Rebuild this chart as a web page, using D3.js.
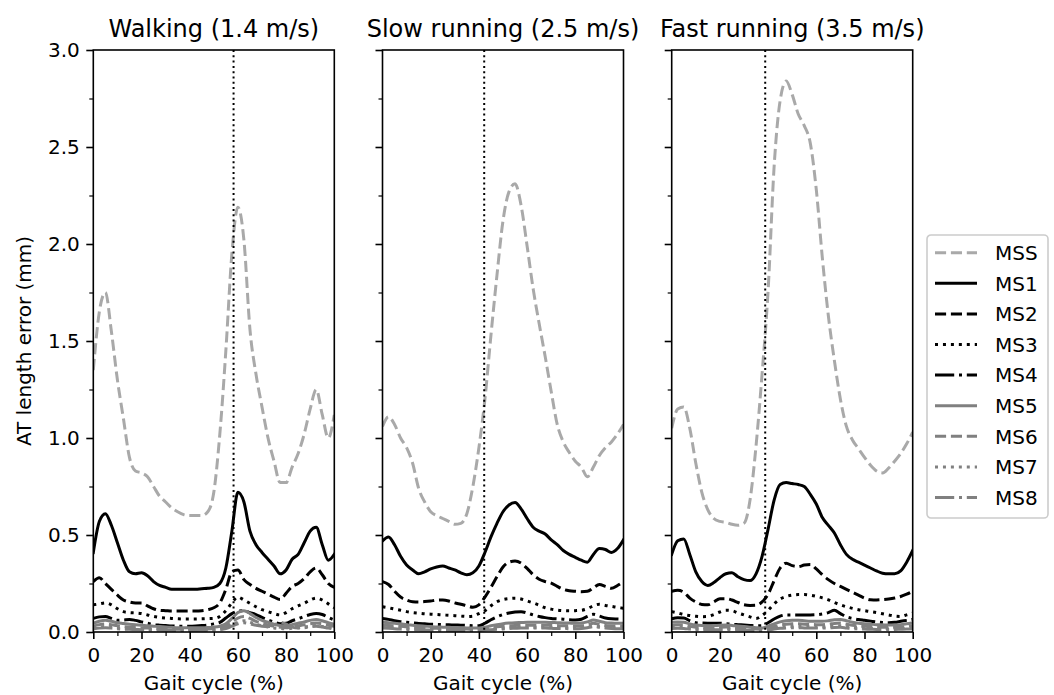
<!DOCTYPE html>
<html>
<head>
<meta charset="utf-8">
<title>AT length error over the gait cycle</title>
<script src="https://cdn.jsdelivr.net/npm/d3@7"></script>
<style>
  body { margin: 0; background: white; }
  svg text { font-family: "DejaVu Sans", sans-serif; fill: black; }
</style>
</head>
<body>
<svg id="chart" width="1054" height="695"></svg>
<script>
// gait cycle sample points (%)
var gait = [0,2.5,5,7.5,10,12.5,15,17.5,20,22.5,25,27.5,30,32.5,35,37.5,40,42.5,45,47.5,
  50,52.5,55,57.5,60,62.5,65,67.5,70,72.5,75,77.5,80,82.5,85,87.5,90,92.5,95,97.5,100];

var seriesNames = ['MSS', 'MS1', 'MS2', 'MS3', 'MS4', 'MS5', 'MS6', 'MS7', 'MS8'];
var panelTitles = ['Walking (1.4 m/s)', 'Slow running (2.5 m/s)', 'Fast running (3.5 m/s)'];
var toeOff = [58.2, 42.2, 38.8];
var xTicks = [0, 20, 40, 60, 80, 100];
var yTicks = [0, 0.5, 1, 1.5, 2, 2.5, 3];

// walking
var walkMSS = [1.35,1.65,1.75,1.55,1.30,1.10,0.90,0.83,0.82,0.80,0.75,0.70,0.67,0.64,0.62,0.605,0.60,0.60,0.60,0.62,
  0.72,1.02,1.45,1.95,2.19,2.02,1.56,1.33,1.16,1.0,0.88,0.77,0.77,0.85,0.92,1.02,1.15,1.25,1.12,1.0,1.12];
var walkMS1 = [0.41,0.57,0.61,0.55,0.46,0.37,0.31,0.30,0.305,0.29,0.26,0.24,0.23,0.22,0.22,0.22,0.22,0.22,0.223,0.225,
  0.23,0.25,0.33,0.52,0.72,0.67,0.52,0.45,0.41,0.375,0.34,0.30,0.32,0.375,0.40,0.46,0.52,0.54,0.45,0.37,0.40];
var walkMS2 = [0.26,0.28,0.25,0.22,0.19,0.165,0.155,0.15,0.15,0.135,0.12,0.112,0.11,0.108,0.108,0.108,0.108,0.108,0.11,0.115,
  0.125,0.15,0.22,0.31,0.32,0.27,0.245,0.225,0.21,0.195,0.18,0.167,0.20,0.235,0.25,0.275,0.31,0.33,0.295,0.25,0.23];
var walkMS3 = [0.14,0.145,0.15,0.14,0.12,0.105,0.1,0.098,0.095,0.088,0.08,0.075,0.072,0.07,0.068,0.067,0.067,0.067,0.068,0.069,
  0.07,0.08,0.11,0.15,0.18,0.165,0.148,0.13,0.115,0.105,0.095,0.088,0.1,0.12,0.135,0.148,0.165,0.175,0.165,0.145,0.125];
var walkMS4 = [0.07,0.078,0.08,0.07,0.06,0.062,0.065,0.06,0.052,0.045,0.038,0.035,0.033,0.031,0.03,0.03,0.03,0.031,0.033,0.036,
  0.042,0.05,0.072,0.095,0.107,0.11,0.1,0.09,0.075,0.062,0.052,0.043,0.045,0.058,0.068,0.08,0.09,0.095,0.09,0.075,0.062];
var walkMS5 = [0.045,0.055,0.06,0.055,0.048,0.044,0.04,0.037,0.035,0.032,0.03,0.028,0.026,0.024,0.022,0.022,0.022,0.022,0.022,0.023,
  0.025,0.03,0.042,0.07,0.1,0.11,0.095,0.075,0.06,0.05,0.04,0.033,0.03,0.038,0.045,0.052,0.06,0.065,0.058,0.048,0.04];
var walkMS6 = [0.03,0.038,0.042,0.038,0.032,0.028,0.025,0.023,0.021,0.02,0.018,0.017,0.016,0.015,0.014,0.014,0.014,0.014,0.015,0.016,
  0.018,0.022,0.03,0.05,0.072,0.08,0.07,0.055,0.045,0.036,0.03,0.025,0.022,0.027,0.032,0.037,0.043,0.047,0.042,0.035,0.03];
var walkMS7 = [0.02,0.025,0.028,0.025,0.021,0.018,0.016,0.015,0.014,0.013,0.012,0.011,0.01,0.01,0.01,0.01,0.01,0.01,0.01,0.011,
  0.012,0.015,0.02,0.035,0.05,0.058,0.05,0.04,0.032,0.026,0.021,0.018,0.016,0.019,0.022,0.026,0.03,0.033,0.029,0.024,0.02];
var walkMS8 = [0.015,0.02,0.022,0.02,0.017,0.015,0.014,0.013,0.012,0.011,0.01,0.01,0.009,0.009,0.008,0.008,0.008,0.008,0.009,0.01,
  0.011,0.013,0.018,0.03,0.042,0.048,0.042,0.035,0.03,0.028,0.035,0.05,0.04,0.025,0.02,0.022,0.026,0.03,0.026,0.02,0.017];

// slow running
var slowMSS = [1.06,1.11,1.07,1.0,0.95,0.87,0.74,0.67,0.62,0.60,0.585,0.57,0.555,0.56,0.61,0.75,0.95,1.2,1.53,1.84,
  2.12,2.27,2.31,2.2,1.99,1.77,1.59,1.42,1.24,1.07,0.98,0.925,0.88,0.85,0.80,0.85,0.91,0.95,0.98,1.02,1.07];
var slowMS1 = [0.47,0.49,0.45,0.39,0.345,0.32,0.30,0.31,0.325,0.335,0.34,0.33,0.32,0.305,0.295,0.305,0.34,0.41,0.49,0.56,
  0.62,0.655,0.667,0.635,0.585,0.54,0.52,0.505,0.475,0.45,0.42,0.40,0.385,0.37,0.36,0.40,0.43,0.425,0.41,0.43,0.475];
var slowMS2 = [0.26,0.245,0.21,0.18,0.165,0.156,0.155,0.157,0.16,0.164,0.165,0.16,0.15,0.143,0.135,0.128,0.14,0.18,0.23,0.285,
  0.335,0.36,0.366,0.355,0.328,0.295,0.272,0.26,0.252,0.235,0.22,0.213,0.21,0.208,0.21,0.228,0.245,0.235,0.225,0.24,0.26];
var slowMS3 = [0.13,0.125,0.118,0.112,0.105,0.1,0.097,0.094,0.092,0.09,0.088,0.086,0.084,0.082,0.08,0.082,0.095,0.11,0.135,0.156,
  0.167,0.172,0.174,0.17,0.16,0.15,0.138,0.125,0.118,0.113,0.11,0.109,0.11,0.112,0.12,0.135,0.143,0.137,0.132,0.127,0.122];
var slowMS4 = [0.07,0.065,0.058,0.053,0.05,0.047,0.044,0.042,0.04,0.039,0.038,0.037,0.036,0.035,0.034,0.032,0.032,0.045,0.063,0.078,
  0.09,0.098,0.103,0.105,0.098,0.088,0.08,0.074,0.07,0.068,0.066,0.063,0.062,0.066,0.08,0.091,0.082,0.072,0.068,0.067,0.066];
var slowMS5 = [0.05,0.048,0.045,0.042,0.038,0.035,0.032,0.03,0.028,0.026,0.025,0.024,0.023,0.022,0.021,0.02,0.021,0.025,0.032,0.038,
  0.043,0.046,0.048,0.049,0.05,0.05,0.05,0.05,0.049,0.048,0.047,0.046,0.045,0.046,0.052,0.062,0.055,0.048,0.046,0.045,0.045];
var slowMS6 = [0.035,0.034,0.032,0.03,0.027,0.025,0.023,0.021,0.02,0.019,0.018,0.017,0.016,0.015,0.015,0.014,0.015,0.018,0.023,0.027,
  0.03,0.032,0.034,0.035,0.035,0.035,0.035,0.035,0.034,0.033,0.032,0.032,0.031,0.032,0.037,0.045,0.04,0.034,0.032,0.031,0.031];
var slowMS7 = [0.025,0.024,0.022,0.02,0.018,0.017,0.016,0.015,0.014,0.013,0.012,0.011,0.011,0.01,0.01,0.01,0.01,0.012,0.015,0.018,
  0.02,0.022,0.023,0.024,0.024,0.024,0.024,0.024,0.023,0.022,0.022,0.021,0.021,0.022,0.026,0.032,0.028,0.024,0.022,0.021,0.021];
var slowMS8 = [0.02,0.019,0.017,0.015,0.013,0.012,0.011,0.01,0.01,0.009,0.009,0.008,0.008,0.008,0.007,0.007,0.008,0.01,0.012,0.014,
  0.016,0.018,0.019,0.02,0.02,0.02,0.02,0.02,0.019,0.018,0.018,0.017,0.017,0.018,0.022,0.028,0.024,0.02,0.018,0.017,0.017];

// fast running
var fastMSS = [1.05,1.15,1.16,1.05,0.87,0.72,0.63,0.585,0.57,0.565,0.555,0.55,0.56,0.68,0.96,1.33,1.76,2.40,2.74,2.84,
  2.77,2.67,2.61,2.52,2.28,1.93,1.63,1.40,1.2,1.06,0.99,0.945,0.90,0.86,0.83,0.82,0.845,0.88,0.92,0.97,1.03];
var fastMS1 = [0.40,0.47,0.48,0.40,0.31,0.26,0.24,0.255,0.28,0.30,0.305,0.285,0.27,0.265,0.30,0.39,0.53,0.68,0.76,0.77,
  0.765,0.76,0.75,0.71,0.66,0.59,0.55,0.51,0.45,0.40,0.375,0.36,0.345,0.33,0.315,0.303,0.30,0.30,0.315,0.36,0.42];
var fastMS2 = [0.21,0.215,0.205,0.175,0.155,0.142,0.14,0.155,0.172,0.172,0.165,0.152,0.14,0.137,0.138,0.155,0.195,0.265,0.33,0.355,
  0.342,0.337,0.345,0.348,0.325,0.295,0.27,0.25,0.235,0.22,0.205,0.19,0.175,0.166,0.165,0.167,0.17,0.175,0.183,0.195,0.21];
var fastMS3 = [0.105,0.098,0.09,0.085,0.081,0.079,0.08,0.09,0.103,0.112,0.11,0.098,0.088,0.078,0.07,0.085,0.112,0.145,0.17,0.183,
  0.19,0.193,0.193,0.19,0.184,0.176,0.166,0.152,0.14,0.13,0.122,0.115,0.11,0.105,0.1,0.094,0.088,0.082,0.08,0.088,0.097];
var fastMS4 = [0.068,0.073,0.072,0.058,0.048,0.046,0.045,0.045,0.045,0.043,0.04,0.038,0.036,0.034,0.032,0.032,0.048,0.067,0.082,0.088,
  0.088,0.088,0.088,0.088,0.089,0.093,0.1,0.112,0.095,0.078,0.07,0.064,0.06,0.056,0.052,0.049,0.048,0.05,0.055,0.06,0.065];
var fastMS5 = [0.05,0.052,0.05,0.042,0.036,0.033,0.032,0.033,0.035,0.036,0.034,0.031,0.028,0.025,0.022,0.02,0.03,0.042,0.052,0.058,
  0.06,0.06,0.058,0.056,0.055,0.055,0.058,0.063,0.065,0.058,0.05,0.045,0.042,0.04,0.038,0.037,0.036,0.036,0.038,0.042,0.048];
var fastMS6 = [0.035,0.037,0.035,0.029,0.025,0.023,0.022,0.023,0.025,0.026,0.024,0.021,0.019,0.017,0.015,0.014,0.02,0.028,0.036,0.04,
  0.042,0.042,0.04,0.039,0.038,0.038,0.04,0.044,0.046,0.04,0.035,0.031,0.029,0.028,0.026,0.025,0.025,0.025,0.026,0.029,0.033];
var fastMS7 = [0.025,0.026,0.025,0.02,0.017,0.016,0.015,0.016,0.017,0.018,0.017,0.015,0.013,0.012,0.011,0.01,0.014,0.02,0.025,0.028,
  0.029,0.029,0.028,0.027,0.026,0.026,0.028,0.031,0.032,0.028,0.024,0.022,0.02,0.019,0.018,0.018,0.017,0.017,0.018,0.02,0.023];
var fastMS8 = [0.018,0.019,0.018,0.015,0.012,0.011,0.011,0.011,0.012,0.013,0.012,0.011,0.01,0.009,0.008,0.008,0.01,0.015,0.019,0.021,
  0.022,0.022,0.021,0.02,0.02,0.02,0.021,0.023,0.024,0.021,0.018,0.016,0.015,0.014,0.013,0.013,0.013,0.013,0.014,0.015,0.017];

var panelSeries = [
  [walkMSS, walkMS1, walkMS2, walkMS3, walkMS4, walkMS5, walkMS6, walkMS7, walkMS8],
  [slowMSS, slowMS1, slowMS2, slowMS3, slowMS4, slowMS5, slowMS6, slowMS7, slowMS8],
  [fastMSS, fastMS1, fastMS2, fastMS3, fastMS4, fastMS5, fastMS6, fastMS7, fastMS8]
];

// line styles (matplotlib-like dashes at lw 1.5pt, 144 dpi)
var DASHED = '11.1,4.8', DOTTED = '3,4.95', DASHDOT = '19.2,4.8,3,4.8';
var seriesColor = ['#a9a9a9', '#000', '#000', '#000', '#000', '#808080', '#808080', '#808080', '#808080'];
var seriesDash = [DASHED, null, DASHED, DOTTED, DASHDOT, null, DASHED, DOTTED, DASHDOT];

var panelLeft = [93.3, 382.5, 671.7];
var plotW = 241, plotH = 582, plotTop = 50;

var svg = d3.select('#chart');
svg.append('rect').attr('width', 1054).attr('height', 695).attr('fill', 'white');

var x = d3.scaleLinear().domain([0, 100]).range([0, plotW]);
var y = d3.scaleLinear().domain([0, 3]).range([plotH, 0]);

var line = d3.line()
  .x(function (d) { return x(d[0]); })
  .y(function (d) { return y(d[1]); })
  .curve(d3.curveMonotoneX);

svg.append('defs').append('clipPath').attr('id', 'plot-clip')
  .append('rect').attr('width', plotW).attr('height', plotH);

function styleAxis(g, width) {
  g.select('.domain').remove();
  g.selectAll('.tick line').attr('stroke', '#000').attr('stroke-width', width);
  g.selectAll('.tick text')
    .attr('font-size', 20)
    .attr('font-family', '"DejaVu Sans", sans-serif');
}

panelSeries.forEach(function (series, p) {
  var g = svg.append('g').attr('transform', 'translate(' + panelLeft[p] + ',' + plotTop + ')');

  var plot = g.append('g').attr('clip-path', 'url(#plot-clip)');

  series.forEach(function (vals, i) {
    var pts = gait.map(function (gx, k) { return [gx, vals[k]]; });
    plot.append('path')
      .attr('d', line(pts))
      .attr('fill', 'none')
      .attr('stroke', seriesColor[i])
      .attr('stroke-width', 3)
      .attr('stroke-linejoin', 'round')
      .attr('stroke-linecap', seriesDash[i] ? 'butt' : 'square')
      .attr('stroke-dasharray', seriesDash[i]);
  });

  // toe-off marker
  plot.append('line')
    .attr('x1', x(toeOff[p])).attr('x2', x(toeOff[p]))
    .attr('y1', 0).attr('y2', plotH)
    .attr('stroke', '#000')
    .attr('stroke-width', 2)
    .attr('stroke-dasharray', '2,3.3');

  // axes
  var xMajor = g.append('g').attr('transform', 'translate(0,' + plotH + ')')
    .call(d3.axisBottom(x).tickValues(xTicks).tickSize(7).tickPadding(9).tickFormat(d3.format('d')));
  styleAxis(xMajor, 1.6);
  var xMinor = g.append('g').attr('transform', 'translate(0,' + plotH + ')')
    .call(d3.axisBottom(x).tickValues([10, 30, 50, 70, 90]).tickSize(4).tickFormat(''));
  styleAxis(xMinor, 1.2);

  var yMajor = g.append('g')
    .call(d3.axisLeft(y).tickValues(yTicks).tickSize(7).tickPadding(6.5)
      .tickFormat(p === 0 ? d3.format('.1f') : function () { return ''; }));
  styleAxis(yMajor, 1.6);
  var yMinor = g.append('g')
    .call(d3.axisLeft(y).tickValues([0.25, 0.75, 1.25, 1.75, 2.25, 2.75]).tickSize(4).tickFormat(''));
  styleAxis(yMinor, 1.2);

  // spines
  g.append('rect')
    .attr('width', plotW).attr('height', plotH)
    .attr('fill', 'none').attr('stroke', '#000').attr('stroke-width', 1.6);

  g.append('text')
    .attr('x', plotW / 2).attr('y', -13)
    .attr('text-anchor', 'middle')
    .attr('font-size', 24)
    .text(panelTitles[p]);

  g.append('text')
    .attr('x', plotW / 2).attr('y', plotH + 58)
    .attr('text-anchor', 'middle')
    .attr('font-size', 20)
    .text('Gait cycle (%)');
});

svg.append('text')
  .attr('transform', 'translate(31,' + (plotTop + plotH / 2) + ') rotate(-90)')
  .attr('text-anchor', 'middle')
  .attr('font-size', 20)
  .text('AT length error (mm)');

// legend
var legend = svg.append('g').attr('transform', 'translate(927,235)');
legend.append('rect')
  .attr('width', 121).attr('height', 283).attr('rx', 4)
  .attr('fill', 'white').attr('fill-opacity', 0.8)
  .attr('stroke', '#cccccc').attr('stroke-width', 1.6);

seriesNames.forEach(function (name, i) {
  var cy = 17.7 + i * 30.6;
  legend.append('line')
    .attr('x1', 8).attr('x2', 50)
    .attr('y1', cy).attr('y2', cy)
    .attr('stroke', seriesColor[i])
    .attr('stroke-width', 3)
    .attr('stroke-dasharray', seriesDash[i]);
  legend.append('text')
    .attr('x', 68).attr('y', cy)
    .attr('dy', '0.36em')
    .attr('font-size', 20)
    .text(name);
});
</script>
</body>
</html>
